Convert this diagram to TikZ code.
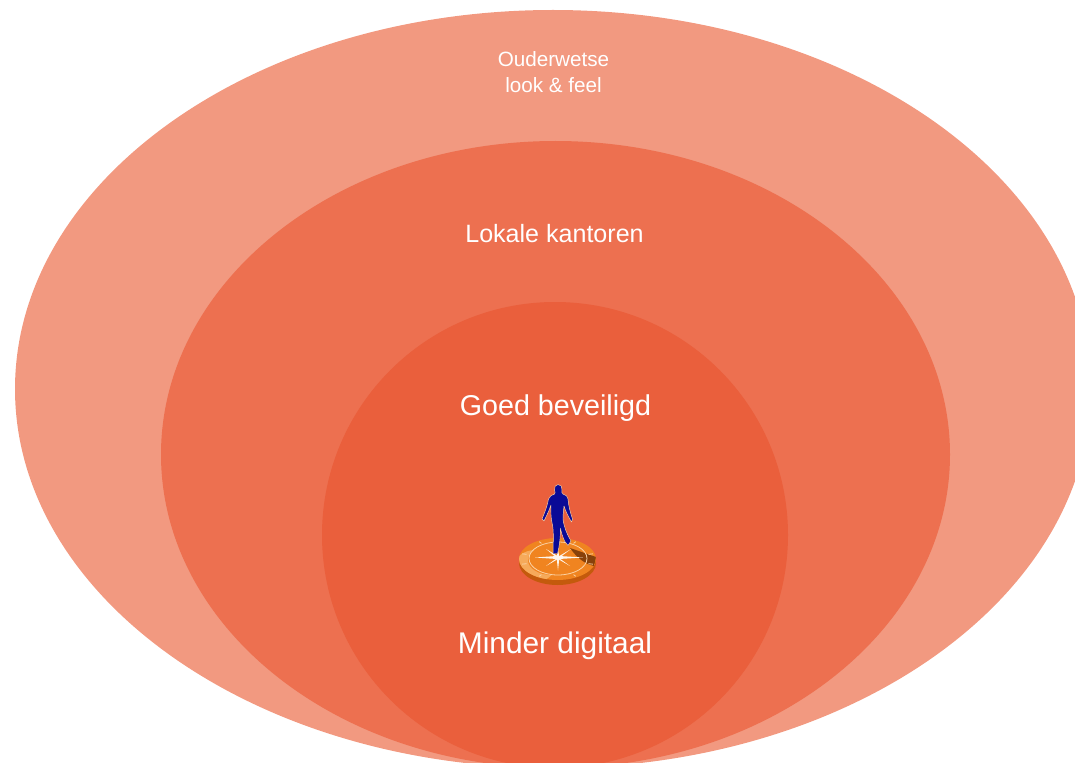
\documentclass[tikz,border=0pt]{standalone}
\usepackage{fontspec}
\setmainfont{Liberation Sans}
\definecolor{ringa}{HTML}{F29980}
\definecolor{ringb}{HTML}{ED7050}
\definecolor{ringc}{HTML}{EA5F3C}
\definecolor{discor}{HTML}{F08420}
\definecolor{discdk}{HTML}{C45A0C}
\definecolor{discli}{HTML}{F8B468}
\definecolor{mannavy}{HTML}{0A0A96}
\tikzset{
  lbl/.style={text=white,align=center,inner sep=0pt,font=\fontsize{#1}{#1}\selectfont},
  ray/.style={draw=discli!60!white,line width=0.6pt},
  star/.style={fill=white!88!discli},
}
\begin{document}
\begin{tikzpicture}[x=0.75pt,y=-0.75pt]
\useasboundingbox (0,0) rectangle (1075,763);
\begin{scope}
\clip (0,0) rectangle (1075,763);
\fill[ringa] (553,389) ellipse [x radius=538,y radius=379];
\fill[ringb] (555.5,454.5) ellipse [x radius=394.5,y radius=313.5];
\fill[ringc] (555,535) circle [radius=233];
\end{scope}
\node[lbl=15.5] (t1) at (553.5,59.5) {Ouderwetse};
\node[lbl=15.5] (t2) at (553.5,85) {look \& feel};
\node[lbl=18.8] (t3) at (554.5,233.5) {Lokale kantoren};
\node[lbl=21.5] (t4) at (555.5,408) {Goed beveiligd};
\node[lbl=22.4] (t5) at (555,646) {Minder digitaal};
% disc
\fill[discdk] (557.5,563) ellipse [x radius=38.5,y radius=22];
\fill[discor] (557.5,559) ellipse [x radius=38.5,y radius=21];
\begin{scope}
\clip (557.5,559) ellipse [x radius=38.5,y radius=21];
\fill[discli!80!discor] (535,566) ellipse [x radius=20,y radius=16];
\fill[discor] (552,560) ellipse [x radius=24,y radius=15];
\fill[black!40!discdk,opacity=.85] (570,548) -- (596,557) -- (594,566) .. controls (585,564) and (577,558) .. (570,548) -- cycle;
\end{scope}
\draw[ray] (558,558.5) ellipse [x radius=29,y radius=16.5];
\foreach \a in {15,60,120,165,195,240,300,345}
  \draw[ray] ({557.5+32*cos(\a)},{559+18*sin(\a)}) -- ({557.5+36.5*cos(\a)},{559+20*sin(\a)});
\fill[star] (558,550) -- (559.2,556) -- (583,557.5) -- (559.2,559) -- (558,570.5) -- (556.8,559) -- (535,557.5) -- (556.8,556) -- cycle;
\fill[star] (546,549) -- (558.5,556.5) -- (571,549) -- (559,558) -- (570,566) -- (558,559) -- (546,566) -- (557,558) -- cycle;
% man
\filldraw[fill=mannavy,draw=discli!60!white,line width=0.35pt,line join=round]
 (558,484.5) .. controls (561,484.5) and (562.5,487) .. (562,490)
 .. controls (561.5,492) and (561.5,493) .. (563,494)
 .. controls (566,495) and (567.5,496) .. (568,499)
 .. controls (568.5,506) and (570.5,513) .. (572.5,519)
 -- (571.5,522)
 .. controls (568,516) and (565.5,511) .. (564,506)
 .. controls (563.5,511) and (563,515) .. (563,519)
 .. controls (564,527) and (566.5,533) .. (571,541)
 -- (568,545.5) -- (564.5,541)
 .. controls (562.5,536) and (561,532) .. (560.5,528)
 .. controls (560.5,537) and (559.5,546) .. (557.5,553.5)
 -- (553,553.5)
 .. controls (553,544) and (554,534) .. (552.5,525)
 .. controls (550.5,518) and (551,511) .. (551,505)
 .. controls (549,511) and (546,517) .. (544,521)
 -- (542,519)
 .. controls (545,512) and (547.5,505) .. (548.5,499)
 .. controls (549.5,496) and (552,495) .. (554.5,494)
 .. controls (555.5,493) and (555,492) .. (554.5,490)
 .. controls (554,487) and (555.5,484.5) .. (558,484.5) -- cycle;
\end{tikzpicture}
\end{document}
